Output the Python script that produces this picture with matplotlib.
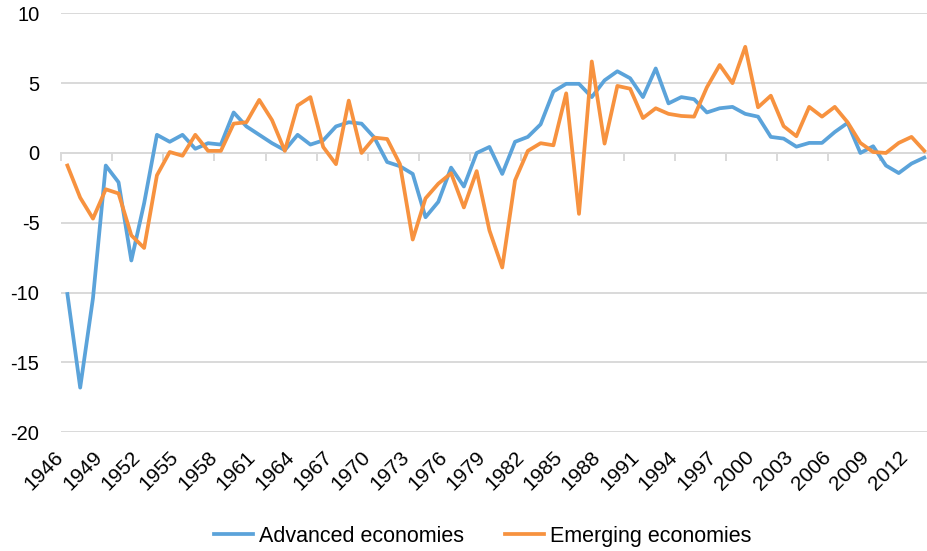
import numpy as np
import matplotlib
matplotlib.use("Agg")
import matplotlib.pyplot as plt

plt.rcParams['font.family'] = ['Liberation Sans', 'DejaVu Sans']
plt.rcParams['axes.unicode_minus'] = False

# Data (1946 - 2013)
years = list(range(1946, 2014))
advanced = [-10.1, -16.8, -10.4, -0.9, -2.1, -7.7, -3.6, 1.3, 0.8, 1.3,
            0.3, 0.7, 0.6, 2.9, 1.9, 1.3, 0.7, 0.2, 1.3, 0.6,
            0.9, 1.9, 2.2, 2.1, 1.1, -0.65, -0.95, -1.5, -4.6, -3.5,
            -1.05, -2.4, 0.0, 0.43, -1.5, 0.8, 1.15, 2.05, 4.4, 4.95,
            4.95, 4.0, 5.2, 5.85, 5.35, 4.0, 6.05, 3.55, 4.0, 3.85,
            2.9, 3.2, 3.3, 2.8, 2.6, 1.15, 1.03, 0.45, 0.72, 0.72,
            1.5, 2.15, 0.0, 0.48, -0.9, -1.44, -0.76, -0.33]
emerging = [-0.9, -3.2, -4.7, -2.6, -2.9, -5.9, -6.8, -1.6, 0.07, -0.2,
            1.3, 0.15, 0.15, 2.1, 2.2, 3.8, 2.35, 0.15, 3.4, 4.0,
            0.43, -0.8, 3.75, 0.0, 1.1, 1.0, -0.8, -6.2, -3.25, -2.2,
            -1.45, -3.9, -1.3, -5.55, -8.2, -1.96, 0.15, 0.7, 0.55, 4.27,
            -4.36, 6.55, 0.67, 4.8, 4.6, 2.5, 3.2, 2.8, 2.65, 2.6,
            4.7, 6.3, 5.0, 7.6, 3.27, 4.1, 1.92, 1.2, 3.3, 2.6,
            3.3, 2.2, 0.72, 0.07, 0.0, 0.72, 1.15, 0.15]

blue = '#5BA3DA'
orange = '#F7923F'
grid_col = '#D9D9D9'

fig = plt.figure(figsize=(9.28, 5.51), dpi=100)
ax = fig.add_axes([61 / 928, 1 - 432.3 / 551, 869.7 / 928, (432.3 - 13.3) / 551])

x = np.arange(len(years))
ax.plot(x, advanced, color=blue, lw=2.7, label='Advanced economies', zorder=3)
ax.plot(x, emerging, color=orange, lw=2.7, label='Emerging economies', zorder=3)

ax.set_xlim(-0.5, len(years) - 0.5)
ax.set_ylim(-20, 10)
ax.set_yticks(np.arange(-20, 11, 5))
ax.yaxis.grid(True, color=grid_col, lw=1.4)
ax.set_axisbelow(True)
ax.tick_params(axis='y', length=0, pad=15.5, labelsize=14.5)

for side in ['top', 'right', 'left']:
    ax.spines[side].set_visible(False)

# horizontal axis line sits at zero, tick marks every 4 categories
ax.spines['bottom'].set_position(('data', 0))
ax.spines['bottom'].set_color(grid_col)
ax.spines['bottom'].set_linewidth(1.4)
ax.set_xticks(np.arange(-0.5, len(years), 4))
ax.tick_params(axis='x', length=6, width=1.4, color=grid_col, labelbottom=False)

# year labels at the bottom of the plot, every 3 years
sec = ax.secondary_xaxis('bottom')
sec.set_xticks(x[::3])
sec.set_xticklabels([str(y) for y in years[::3]], rotation=45, ha='right', va='top',
                    rotation_mode='default')
sec.tick_params(length=0, pad=11, labelsize=15)
sec.spines['bottom'].set_visible(False)

fig.legend(loc='center', bbox_to_anchor=(483 / 928, 0.027), ncol=2, frameon=False,
           fontsize=15.5, handlelength=1.8, handletextpad=0.3, columnspacing=1.9)

fig.savefig('out.png', dpi=100)
